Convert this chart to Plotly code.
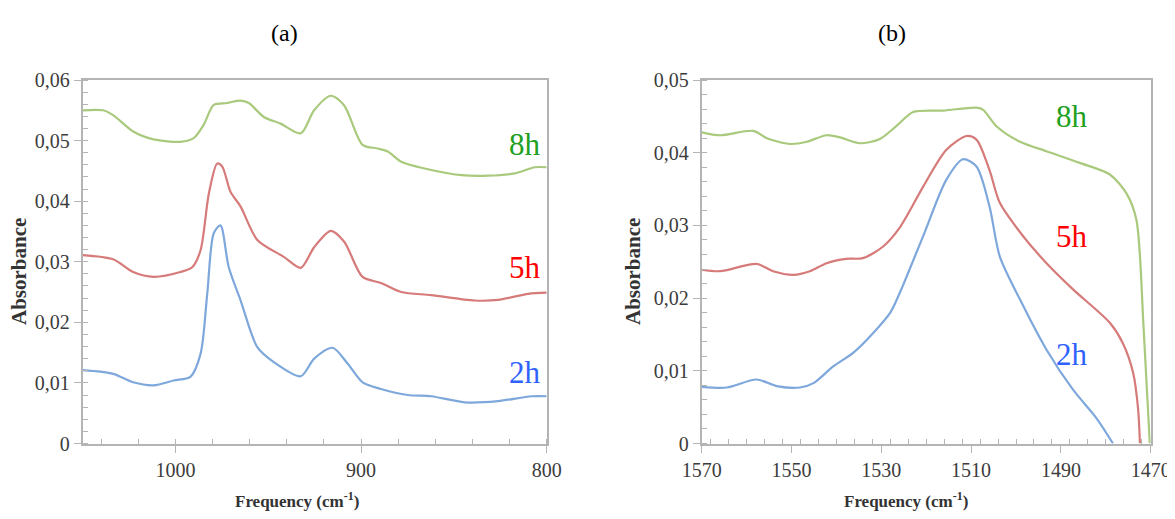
import plotly.graph_objects as go

# ---- Panel (a) data ----
a_8h_x = [1050, 1039, 1033.6, 1022.8, 1011.8, 997.4, 990.2, 984.8, 979.4, 972.2, 965, 960.5, 952.4, 943.4, 932.5,
          925.3, 916.3, 909.1, 899.2, 891.1, 885.6, 878.4, 865.8, 846, 831.6, 817.2, 806.4, 800]
a_8h_y = [0.0550, 0.0550, 0.0542, 0.0515, 0.0502, 0.0498, 0.0504, 0.0526, 0.0559, 0.0562, 0.0566, 0.0562, 0.0539, 0.0528, 0.0512,
          0.0550, 0.0574, 0.0558, 0.0493, 0.0487, 0.0482, 0.0465, 0.0454, 0.0443, 0.0442, 0.0446, 0.0456, 0.0456]

a_5h_x = [1050, 1033.6, 1022.8, 1011.8, 997.4, 991, 986.5, 982, 977.5, 974.8, 970.3, 964.9, 955.9, 941.6, 932.5,
          925.3, 916.3, 909.1, 899.2, 889.3, 878.4, 862.2, 838.8, 826.2, 810, 800]
a_5h_y = [0.0311, 0.0304, 0.0283, 0.0275, 0.0283, 0.0291, 0.0319, 0.0413, 0.0462, 0.0457, 0.0415, 0.0391, 0.0336, 0.0308, 0.0290,
          0.0324, 0.0351, 0.0333, 0.0275, 0.0265, 0.0250, 0.0245, 0.0236, 0.0237, 0.0247, 0.0249]

a_2h_x = [1050, 1033.6, 1022.8, 1011.8, 1001, 992, 986.5, 982.9, 979.4, 975.8, 971.3, 964.9, 955.9, 946.9, 932.5,
          925.3, 915.4, 907.3, 899.2, 889.3, 874.9, 862.2, 844.2, 826.2, 808.2, 800]
a_2h_y = [0.0121, 0.0115, 0.0101, 0.0096, 0.0104, 0.0110, 0.0148, 0.0247, 0.0347, 0.0360, 0.0291, 0.0236, 0.0159, 0.0134, 0.0111,
          0.0140, 0.0158, 0.0132, 0.0101, 0.0090, 0.0080, 0.0078, 0.0068, 0.0070, 0.0078, 0.0078]

# ---- Panel (b) data ----
b_8h_x = [1570, 1565.9, 1558.5, 1555.5, 1550.3, 1546.6, 1542.2, 1539.2, 1534.7, 1530.3, 1526.6, 1522.9, 1516.2, 1508.8,
          1507.3, 1504.3, 1499.1, 1493.2, 1485.8, 1479.1, 1475.4, 1473.2, 1471.6, 1470.2]
b_8h_y = [0.0428, 0.0424, 0.0430, 0.0420, 0.0412, 0.0415, 0.0424, 0.0421, 0.0413, 0.0419, 0.0437, 0.0456, 0.0458, 0.0462,
          0.0459, 0.0436, 0.0415, 0.0402, 0.0386, 0.0370, 0.0344, 0.0308, 0.0161, 0.0]

b_5h_x = [1570, 1565.9, 1557.8, 1554.1, 1549.6, 1545.9, 1542.2, 1537.8, 1534.1, 1529.6, 1525.9, 1520.7, 1515.5, 1511,
          1508.8, 1505.9, 1503.6, 1498.4, 1493.2, 1487.3, 1479.1, 1476.2, 1473.9, 1472.8, 1472.4]
b_5h_y = [0.0239, 0.0237, 0.0247, 0.0237, 0.0232, 0.0237, 0.0248, 0.0254, 0.0255, 0.0271, 0.0297, 0.0353, 0.0404, 0.0423,
          0.0418, 0.0376, 0.0331, 0.0285, 0.0248, 0.0212, 0.0166, 0.0138, 0.0097, 0.0047, 0.0]

b_2h_x = [1570, 1564.4, 1557.8, 1553.3, 1548.1, 1545.1, 1540.7, 1536.2, 1531.8, 1528, 1525.9, 1520.7, 1515.5, 1511.8,
          1508.8, 1505.9, 1503.6, 1499.1, 1493.2, 1487.3, 1482.1, 1478.4]
b_2h_y = [0.0078, 0.0077, 0.0088, 0.0079, 0.0077, 0.0083, 0.0106, 0.0125, 0.0152, 0.0180, 0.0207, 0.0285, 0.0363, 0.0391,
          0.0381, 0.0326, 0.0257, 0.0198, 0.0129, 0.0074, 0.0035, 0.0]

series_names = ["8h", "5h", "2h"]
a_ticks_x = [1000, 900, 800]
b_ticks_x = [1570, 1550, 1530, 1510, 1490, 1470]
a_ticks_y = [0, 0.01, 0.02, 0.03, 0.04, 0.05, 0.06]
a_ticks_y_text = ["0", "0,01", "0,02", "0,03", "0,04", "0,05", "0,06"]
b_ticks_y = [0, 0.01, 0.02, 0.03, 0.04, 0.05]
b_ticks_y_text = ["0", "0,01", "0,02", "0,03", "0,04", "0,05"]

line_colors = {"8h": "#a9c97c", "5h": "#d67a7a", "2h": "#7ea8dc"}
label_colors = {"8h": "#22a022", "5h": "#ff0000", "2h": "#2f62ff"}

fig = go.Figure()
a_data = {"8h": (a_8h_x, a_8h_y), "5h": (a_5h_x, a_5h_y), "2h": (a_2h_x, a_2h_y)}
b_data = {"8h": (b_8h_x, b_8h_y), "5h": (b_5h_x, b_5h_y), "2h": (b_2h_x, b_2h_y)}
for name in series_names:
    x, y = a_data[name]
    fig.add_trace(go.Scatter(x=x, y=y, mode="lines", name=name, xaxis="x", yaxis="y",
                             line=dict(color=line_colors[name], width=2.2, shape="spline", smoothing=0.8),
                             showlegend=False))
    x, y = b_data[name]
    fig.add_trace(go.Scatter(x=x, y=y, mode="lines", name=name, xaxis="x2", yaxis="y2",
                             line=dict(color=line_colors[name], width=2.2, shape="spline", smoothing=0.8),
                             showlegend=False))

# page body has an 8px margin: figure pixel = screen pixel - 8
W, H = 1167, 511
OFF = 8
def fx(px):
    return (px - OFF) / W
def fy(py):
    return 1 - (py - OFF) / H

serif = "Liberation Serif"
axis_col = "#b4b4b4"
tickfont = dict(family=serif, size=20, color="#3c3c3c")

def xaxis_cfg(rng, tickvals, dom, minor_dtick):
    return dict(range=rng, domain=dom, tickvals=tickvals, ticktext=[str(v) for v in tickvals],
                ticks="outside", ticklen=7, tickcolor=axis_col, tickwidth=1, automargin=False,
                showline=True, linecolor=axis_col, linewidth=2, mirror=True,
                showgrid=False, zeroline=False, tickfont=tickfont,
                minor=dict(dtick=minor_dtick, tick0=0, ticks="inside", ticklen=5, tickcolor=axis_col, showgrid=False))

def yaxis_cfg(rng, tickvals, ticktext, anchor):
    return dict(range=rng, domain=[fy(443.5), fy(80)], tickvals=tickvals, ticktext=ticktext, anchor=anchor,
                ticks="outside", ticklen=7, tickcolor=axis_col, tickwidth=1, automargin=False,
                showline=True, linecolor=axis_col, linewidth=2, mirror=True,
                showgrid=False, zeroline=False, tickfont=tickfont,
                minor=dict(dtick=0.002, tick0=0, ticks="inside", ticklen=5, tickcolor=axis_col, showgrid=False))

fig.update_layout(
    template="none",
    width=W, height=H, margin=dict(l=0, r=0, t=0, b=0, pad=0), autosize=False,
    paper_bgcolor="white", plot_bgcolor="white",
    xaxis=xaxis_cfg([1050, 800], a_ticks_x, [fx(82.7), fx(546.7)], 20) | dict(anchor="y"),
    yaxis=yaxis_cfg([0, 0.06], a_ticks_y, a_ticks_y_text, "x"),
    xaxis2=xaxis_cfg([1570, 1470], b_ticks_x, [fx(701.7), fx(1150.7)], 4) | dict(anchor="y2"),
    yaxis2=yaxis_cfg([0, 0.05], b_ticks_y, b_ticks_y_text, "x2"),
)

ann = []
# panel titles
ann.append(dict(text="(a)", x=fx(284), y=fy(33), xref="paper", yref="paper", showarrow=False,
                xanchor="center", yanchor="middle", font=dict(family=serif, size=24, color="black")))
ann.append(dict(text="(b)", x=fx(892), y=fy(33), xref="paper", yref="paper", showarrow=False,
                xanchor="center", yanchor="middle", font=dict(family=serif, size=24, color="black")))
# axis titles
for cx in (297, 906):
    ann.append(dict(text="<b>Frequency (cm<sup>-1</sup>)</b>", x=fx(cx), y=fy(500), xref="paper", yref="paper",
                    xanchor="center", yanchor="middle",
                    showarrow=False, font=dict(family=serif, size=17, color="#333333")))
for cx in (19, 633):
    ann.append(dict(text="<b>Absorbance</b>", x=fx(cx), y=fy(272), xref="paper", yref="paper", textangle=-90,
                    xanchor="center", yanchor="middle",
                    showarrow=False, font=dict(family=serif, size=21, color="#333333")))
# series labels
a_lab = {"8h": 0.0493, "5h": 0.0291, "2h": 0.0118}
b_lab = {"8h": 0.0450, "5h": 0.0285, "2h": 0.0122}
for name in series_names:
    ann.append(dict(text=name, x=fx(543), y=a_lab[name], xref="paper", yref="y", xanchor="right", yanchor="middle",
                    showarrow=False, font=dict(family=serif, size=31, color=label_colors[name])))
    ann.append(dict(text=name, x=1487.6, y=b_lab[name], xref="x2", yref="y2", xanchor="center", yanchor="middle",
                    showarrow=False, font=dict(family=serif, size=31, color=label_colors[name])))
fig.update_layout(annotations=ann)

fig.write_html("out.html")
